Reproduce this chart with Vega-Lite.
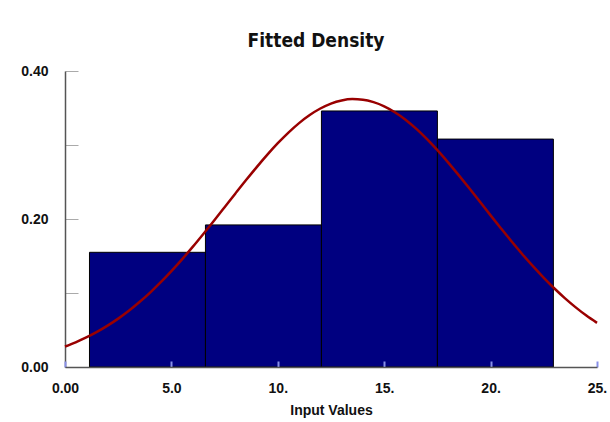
{
  "$schema": "https://vega.github.io/schema/vega-lite/v6.json",
  "autosize": {"type": "none"},
  "padding": {"left": 65, "top": 71, "right": 13, "bottom": 55},
  "width": 532,
  "height": 296,
  "background": "white",
  "title": {
    "text": "Fitted Density",
    "font": "DejaVu Sans Condensed, DejaVu Sans",
    "fontSize": 19,
    "fontWeight": "bold",
    "color": "#111111",
    "anchor": "middle",
    "dx": -15,
    "offset": 13
  },
  "config": {
    "view": {"stroke": null},
    "axis": {
      "labelFont": "Liberation Sans",
      "labelFontSize": 14,
      "labelFontWeight": "bold",
      "labelColor": "#111111",
      "titleFont": "Liberation Sans",
      "titleFontSize": 14,
      "titleFontWeight": "bold",
      "titleColor": "#111111",
      "grid": false
    }
  },
  "datasets": {
    "bins": [
      {"start": 1.15, "end": 6.6, "density": 0.155},
      {"start": 6.6, "end": 12.05, "density": 0.192},
      {"start": 12.05, "end": 17.5, "density": 0.346},
      {"start": 17.5, "end": 22.95, "density": 0.308}
    ],
    "curve": [
      {"x": 0, "y": 0.0277}, {"x": 0.5, "y": 0.0334}, {"x": 1, "y": 0.0399}, {"x": 1.5, "y": 0.0474},
      {"x": 2, "y": 0.0559}, {"x": 2.5, "y": 0.0654}, {"x": 3, "y": 0.076}, {"x": 3.5, "y": 0.0878},
      {"x": 4, "y": 0.1006}, {"x": 4.5, "y": 0.1146}, {"x": 5, "y": 0.1296}, {"x": 5.5, "y": 0.1455},
      {"x": 6, "y": 0.1623}, {"x": 6.5, "y": 0.1798}, {"x": 7, "y": 0.1977}, {"x": 7.5, "y": 0.2159},
      {"x": 8, "y": 0.2342}, {"x": 8.5, "y": 0.2523}, {"x": 9, "y": 0.2698}, {"x": 9.5, "y": 0.2866},
      {"x": 10, "y": 0.3024}, {"x": 10.5, "y": 0.3168}, {"x": 11, "y": 0.3296}, {"x": 11.5, "y": 0.3405},
      {"x": 12, "y": 0.3493}, {"x": 12.5, "y": 0.356}, {"x": 13, "y": 0.3602}, {"x": 13.5, "y": 0.362},
      {"x": 14, "y": 0.3612}, {"x": 14.5, "y": 0.3579}, {"x": 15, "y": 0.3523}, {"x": 15.5, "y": 0.3443},
      {"x": 16, "y": 0.3342}, {"x": 16.5, "y": 0.3221}, {"x": 17, "y": 0.3083}, {"x": 17.5, "y": 0.2931},
      {"x": 18, "y": 0.2766}, {"x": 18.5, "y": 0.2593}, {"x": 19, "y": 0.2415}, {"x": 19.5, "y": 0.2232},
      {"x": 20, "y": 0.2049}, {"x": 20.5, "y": 0.1869}, {"x": 21, "y": 0.1692}, {"x": 21.5, "y": 0.1521},
      {"x": 22, "y": 0.1359}, {"x": 22.5, "y": 0.1205}, {"x": 23, "y": 0.1061}, {"x": 23.5, "y": 0.0928},
      {"x": 24, "y": 0.0806}, {"x": 24.5, "y": 0.0695}, {"x": 25, "y": 0.0596}
    ]
  },
  "layer": [
    {
      "data": {"name": "bins"},
      "mark": {"type": "rect", "fill": "#000080", "stroke": "#000000", "strokeWidth": 1},
      "encoding": {
        "x": {
          "field": "start", "type": "quantitative",
          "scale": {"domain": [0, 25], "nice": false, "zero": false},
          "axis": {
            "title": "Input Values",
            "titlePadding": 8,
            "values": [0, 5, 10, 15, 20, 25],
            "labelExpr": "datum.value == 0 ? '0.00' : datum.value == 5 ? '5.0' : datum.value + '.'",
            "tickSize": -6,
            "tickColor": "#8890e8",
            "tickWidth": 2,
            "domainColor": "#555555",
            "domainWidth": 1.5,
            "labelPadding": 20,
            "labelFlush": false,
            "zindex": 2
          }
        },
        "x2": {"field": "end"},
        "y": {
          "field": "density", "type": "quantitative",
          "scale": {"domain": [0, 0.4], "nice": false},
          "axis": {
            "title": null,
            "values": [0, 0.1, 0.2, 0.3, 0.4],
            "labelExpr": "datum.value == 0.1 || datum.value == 0.3 ? '' : format(datum.value, '.2f')",
            "tickSize": -13,
            "tickColor": "#aaaaaa",
            "tickWidth": 1,
            "domainColor": "#555555",
            "domainWidth": 1.5,
            "labelPadding": 30,
            "labelFlush": false
          }
        },
        "y2": {"datum": 0}
      }
    },
    {
      "data": {"name": "curve"},
      "mark": {"type": "line", "color": "#990000", "strokeWidth": 2.5, "interpolate": "monotone"},
      "encoding": {
        "x": {"field": "x", "type": "quantitative"},
        "y": {"field": "y", "type": "quantitative"}
      }
    }
  ]
}
